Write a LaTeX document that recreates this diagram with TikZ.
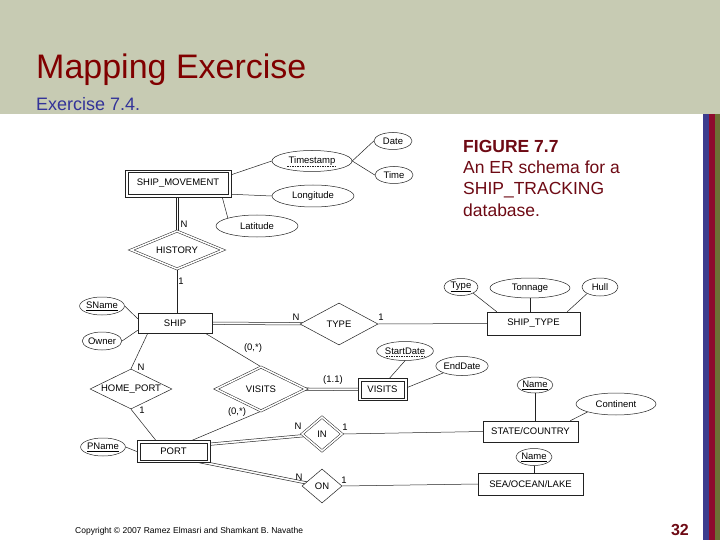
\documentclass[tikz,border=0pt]{standalone}
\usepackage{fontspec}
\setmainfont{Liberation Sans}
\setsansfont{Liberation Sans}
\usetikzlibrary{shapes.geometric,calc}
\pgfdeclarelayer{back}
\pgfdeclarelayer{lines}
\pgfsetlayers{back,lines,main}
\definecolor{hdr}{HTML}{C7CBB3}
\definecolor{ttl}{HTML}{800000}
\definecolor{sub}{HTML}{333399}
\definecolor{fig}{HTML}{6E0A14}
\definecolor{barb}{HTML}{3C3C8E}
\definecolor{barr}{HTML}{8E0B2E}
\definecolor{baro}{HTML}{6D7035}
\definecolor{ln}{HTML}{222222}
\tikzset{
  er/.style={font=\fontsize{9.5}{10}\selectfont, text=black},
  ent/.style={er, draw=ln, fill=white, line width=0.5pt, rectangle, inner sep=0pt},
  attr/.style={er, draw=ln, fill=white, line width=0.5pt, ellipse, inner sep=0pt},
  rel/.style={er, draw=ln, fill=white, line width=0.5pt, diamond, inner sep=0pt, aspect=2},
  wkrel/.style={rel, double, double distance=1.6pt},
  conn/.style={draw=ln, line width=0.5pt},
  card/.style={er, inner sep=0pt},
  figline/.style={anchor=base west, inner sep=0pt, text=fig, font=\fontsize{17.5}{21}\selectfont}
}
\newcommand\dblline[2]{%
  \draw[conn] ($(#1)!1.2pt!90:(#2)$) -- ($(#2)!1.2pt!-90:(#1)$);
  \draw[conn] ($(#1)!1.2pt!-90:(#2)$) -- ($(#2)!1.2pt!90:(#1)$);}
\begin{document}
\begin{tikzpicture}[x=1pt,y=-1pt]
\useasboundingbox (0,0) rectangle (720,540);
\begin{pgfonlayer}{back}
\fill[white] (0,0) rectangle (720,540);
\fill[hdr] (0,0) rectangle (720,114);
\fill[barb] (703,114) rectangle (708.5,540);
\fill[barr] (708.5,114) rectangle (715,540);
\fill[baro] (715,114) rectangle (720,540);
\end{pgfonlayer}
\node[anchor=base west, inner sep=0pt, text=ttl, font=\fontsize{34}{36}\selectfont] (title) at (36,79) {Mapping Exercise};
\node[anchor=base west, inner sep=0pt, text=sub, font=\fontsize{18}{20}\selectfont] (subt) at (36,110.5) {Exercise 7.4.};
\node[figline, font=\bfseries\fontsize{17.5}{21}\selectfont] (fig1) at (463,153) {FIGURE 7.7};
\node[figline] (fig2) at (463,174) {An ER schema for a};
\node[figline] (fig3) at (463,195) {SHIP\_TRACKING};
\node[figline] (fig4) at (463,216) {database.};
\node[anchor=base west, inner sep=0pt, font=\fontsize{8.5}{9}\selectfont] (copy) at (75,533) {Copyright © 2007 Ramez Elmasri and Shamkant B. Navathe};
\node[anchor=base east, inner sep=0pt, text=fig, font=\bfseries\fontsize{16}{18}\selectfont] (pg) at (689,535) {32};

% entities
\node[ent, minimum width=106pt, minimum height=27pt] (sm) at (178,183.5) {SHIP\_MOVEMENT};
\draw[conn] ([shift={(3pt,-3pt)}]sm.north west) rectangle ([shift={(-3pt,3pt)}]sm.south east);
\node[ent, minimum width=74pt, minimum height=20pt] (ship) at (175,323) {SHIP};
\node[ent, minimum width=93pt, minimum height=23pt] (st) at (533.5,323.5) {SHIP\_TYPE};
\node[ent, minimum width=49pt, minimum height=22pt] (ve) at (382.5,389.5) {VISITS};
\draw[conn] ([shift={(3pt,-3pt)}]ve.north west) rectangle ([shift={(-3pt,3pt)}]ve.south east);
\node[ent, minimum width=73pt, minimum height=22pt] (port) at (173.5,451.5) {PORT};
\draw[conn] ([shift={(3pt,-3pt)}]port.north west) rectangle ([shift={(-3pt,3pt)}]port.south east);
\node[ent, minimum width=95pt, minimum height=21pt] (sc) at (530.5,431.5) {STATE/COUNTRY};
\node[ent, minimum width=105pt, minimum height=22pt] (sol) at (530.5,484) {SEA/OCEAN/LAKE};

% attributes
\node[attr, minimum width=80pt, minimum height=21pt] (ts) at (312,161) {Timestamp};
\draw[ln, line width=0.4pt, dash pattern=on 1.5pt off 1pt] ($(ts.center)+(-25,5.5)$) -- ++(50,0);
\node[attr, minimum width=38pt, minimum height=17pt] (date) at (393,141) {Date};
\node[attr, minimum width=38pt, minimum height=17pt] (time) at (394,175) {Time};
\node[attr, minimum width=82pt, minimum height=22pt] (lon) at (313,196) {Longitude};
\node[attr, minimum width=82pt, minimum height=22pt] (lat) at (257,226) {Latitude};
\node[attr, minimum width=38pt, minimum height=18pt] (sname) at (102,306) {\underline{SName}};
\node[attr, minimum width=38pt, minimum height=18pt] (owner) at (102,341) {Owner};
\node[attr, minimum width=34pt, minimum height=17pt] (ttype) at (461,287) {\underline{Type}};
\node[attr, minimum width=80pt, minimum height=20pt] (ton) at (530,288) {Tonnage};
\node[attr, minimum width=36pt, minimum height=18pt] (hull) at (600,287) {Hull};
\node[attr, minimum width=48pt, minimum height=19pt] (sd) at (405,351) {StartDate};
\draw[ln, line width=0.4pt, dash pattern=on 1.5pt off 1pt] ($(sd.center)+(-19,5.5)$) -- ++(38,0);
\node[attr, minimum width=48pt, minimum height=19pt] (ed) at (462,366) {EndDate};
\node[attr, minimum width=40pt, minimum height=18pt] (pname) at (103,447) {\underline{PName}};
\node[attr, minimum width=34pt, minimum height=16pt] (scn) at (535,385) {\underline{Name}};
\node[attr, minimum width=80pt, minimum height=22pt] (cont) at (616,404) {Continent};
\node[attr, minimum width=36pt, minimum height=17pt] (soln) at (534,457) {\underline{Name}};

% relationships
\node[wkrel, minimum width=92pt, minimum height=38pt] (hist) at (177,250) {HISTORY};
\node[rel, minimum width=78pt, minimum height=42pt] (type) at (339,324) {TYPE};
\node[rel, minimum width=82pt, minimum height=40pt] (hp) at (131,389) {HOME\_PORT};
\node[wkrel, minimum width=90pt, minimum height=44pt] (vd) at (261,389) {VISITS};
\node[wkrel, minimum width=40pt, minimum height=34pt] (in) at (322,434) {IN};
\node[rel, minimum width=40pt, minimum height=34pt] (on) at (322,486) {ON};

\coordinate (smb) at (hist.center |- sm.center);
\coordinate (pin) at ([yshift=4pt]port.center);
\coordinate (pon) at ([yshift=-5pt]port.center);

% connectors
\begin{pgfonlayer}{lines}
\draw[conn] ([yshift=-5pt]sm.north east) -- (ts.west);
\draw[conn] (ts.east) -- (date.west);
\draw[conn] (ts.east) -- (time.west);
\draw[conn] ([yshift=3pt]sm.south east) -- (lon.west);
\draw[conn] ([xshift=-9pt]sm.south east) -- (lat.north west);
\dblline{hist.center}{smb}
\draw[conn] (hist.south) -- (hist.south |- ship.north);
\draw[conn] (sname.east) -- ([yshift=-6pt]ship.north west);
\draw[conn] (owner.east) -- ([yshift=3pt]ship.south west);
\dblline{ship.center}{type.center}
\draw[conn] (type.east) -- (st.west);
\draw[conn] (ttype.south east) -- ([xshift=10pt]st.north west);
\draw[conn] (ton.south) -- (ton.south |- st.north);
\draw[conn] (hull.south west) -- ([xshift=-13pt]st.north east);
\draw[conn] ([xshift=10pt]ship.south west) -- (hp.north);
\draw[conn] (hp.south) -- ([xshift=19pt]port.north west);
\draw[conn] ([xshift=-7pt]ship.south east) -- (vd.north);
\draw[conn] (vd.south) -- ([xshift=-18pt]port.north east);
\dblline{vd.center}{ve.center}
\draw[conn] ([xshift=7pt]ve.north) -- (sd.south);
\draw[conn] ([yshift=2pt]ve.east) -- (ed.south west);
\draw[conn] (pname.east) -- (port.west);
\dblline{pin}{in.center}
\dblline{pon}{on.center}
\draw[conn] (in.east) -- (sc.west);
\draw[conn] (on.east) -- (sol.west);
\draw[conn] (scn.south) -- (scn.south |- sc.north);
\draw[conn] (cont.south west) -- ([xshift=-8pt]sc.north east);
\draw[conn] (soln.south) -- (soln.south |- sol.north);
\end{pgfonlayer}

% cardinalities
\node[card] (c1) at (184,224) {N};
\node[card] (c2) at (181,281) {1};
\node[card] (c3) at (296,317) {N};
\node[card] (c4) at (381,317) {1};
\node[card] (c5) at (141,367) {N};
\node[card] (c6) at (142,410) {1};
\node[card] (c7) at (253,348) {(0,*)};
\node[card] (c8) at (333,380) {(1.1)};
\node[card] (c9) at (237,412) {(0,*)};
\node[card] (c10) at (298,426) {N};
\node[card] (c11) at (345,427) {1};
\node[card] (c12) at (299,477) {N};
\node[card] (c13) at (344,480) {1};
\end{tikzpicture}
\end{document}
